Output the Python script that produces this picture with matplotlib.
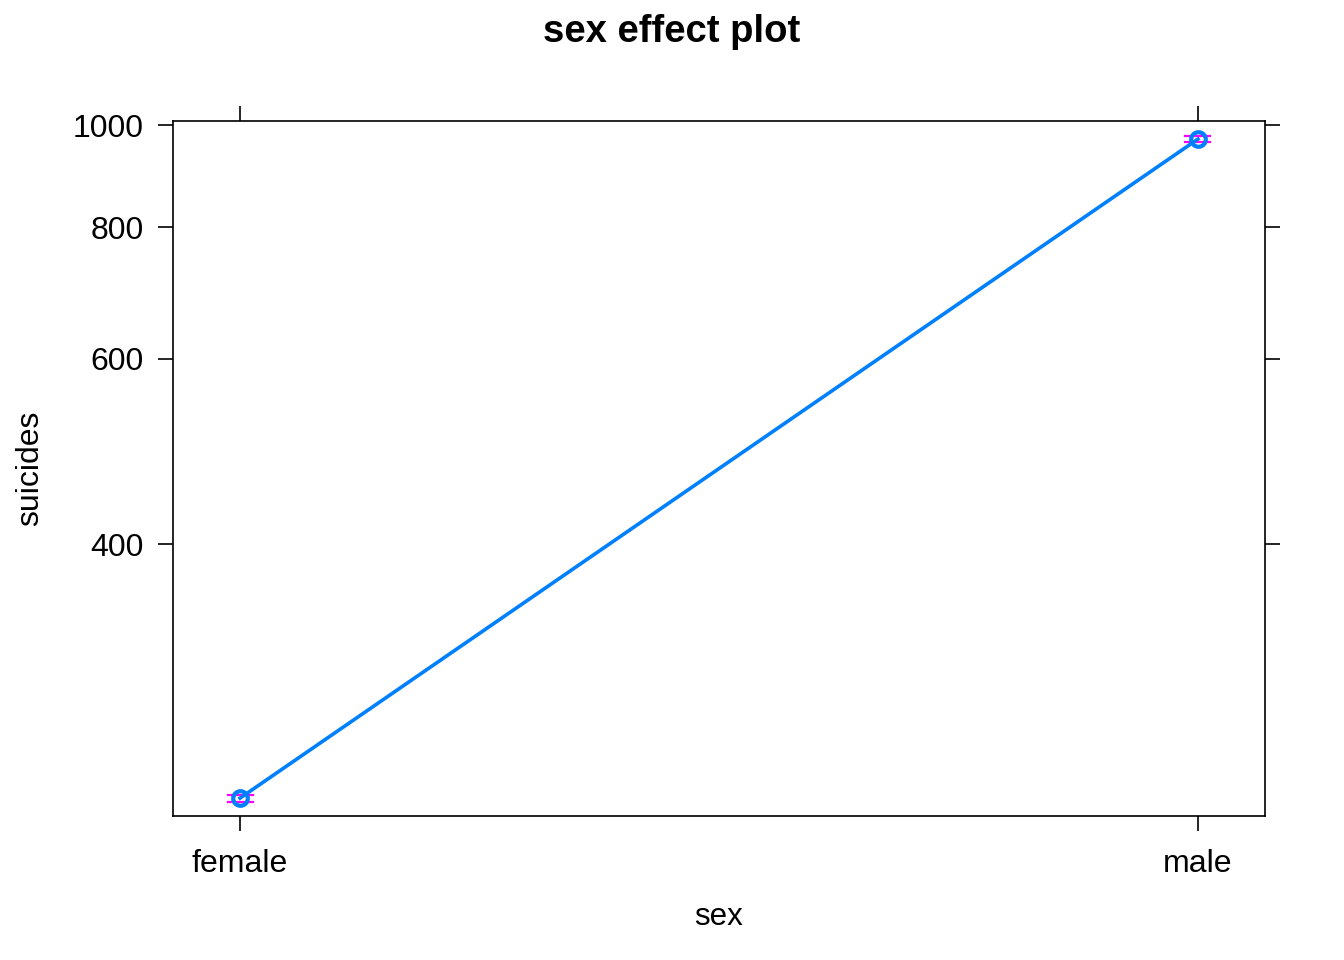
import matplotlib
matplotlib.use("Agg")
import matplotlib.pyplot as plt
from matplotlib.ticker import FixedLocator, NullLocator, FixedFormatter

plt.rcParams['font.family'] = ['Liberation Sans', 'DejaVu Sans']

categories = ["female", "male"]
fit = [229.5, 969.8]
lower = [227.5, 963.5]
upper = [231.2, 976.2]
yticks = [400, 600, 800, 1000]

fig = plt.figure(figsize=(13.44, 9.6), dpi=100)
ax = fig.add_axes([173/1344, 1-816/960, (1265-173)/1344, (816-121)/960])

x = list(range(len(categories)))
ax.plot(x, fit, color='#0080FF', lw=2.6, zorder=3)
ax.plot(x, fit, 'o', mfc='none', mec='#0080FF', mew=3.0, ms=10.5, zorder=4)
for xi, lo, hi in zip(x, lower, upper):
    ax.plot([xi-0.013, xi+0.013], [lo, lo], color='#FF00FF', lw=1.6, zorder=2)
    ax.plot([xi-0.013, xi+0.013], [hi, hi], color='#FF00FF', lw=1.6, zorder=2)

ax.set_yscale('log')
ax.set_ylim(220.7, 1008.8)
ax.set_xlim(-0.07, 1.07)
ax.yaxis.set_major_locator(FixedLocator(yticks))
ax.yaxis.set_major_formatter(FixedFormatter([str(v) for v in yticks]))
ax.yaxis.set_minor_locator(NullLocator())
ax.set_xticks(x)
ax.set_xticklabels(categories)

ax.tick_params(axis='both', direction='out', length=11, width=1.2, labelsize=23,
               top=True, right=True, labeltop=False, labelright=False)
ax.tick_params(axis='x', pad=13)
ax.tick_params(axis='y', pad=10)
for s in ax.spines.values():
    s.set_linewidth(1.2)

fig.text(719/1344, 1-917/960, 'sex', ha='center', va='center', fontsize=22.5)
fig.text(30/1344, 1-468/960, 'suicides', ha='center', va='center', fontsize=23,
         rotation=90)
fig.text(672/1344, 1-32/960, 'sex effect plot', ha='center', va='center',
         fontsize=27.5, fontweight='bold')

fig.savefig('out.png', dpi=100)
